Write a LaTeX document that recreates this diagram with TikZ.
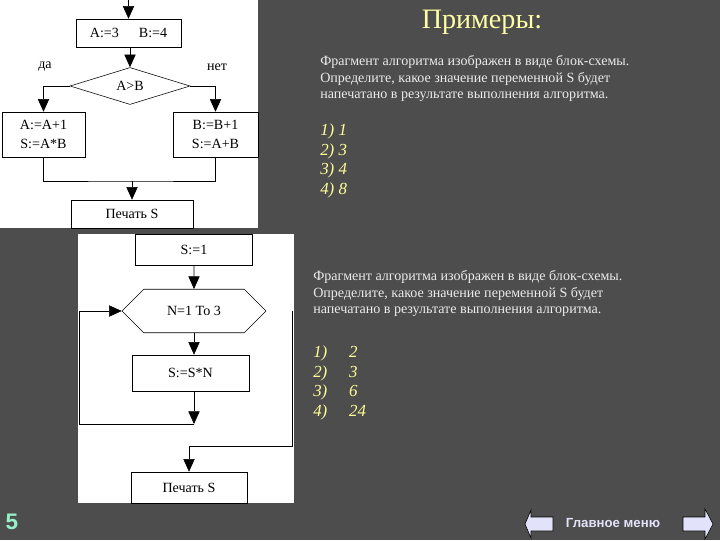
\documentclass[tikz,border=0pt]{standalone}
\usepackage{fontspec}
\setmainfont{Liberation Serif}
\newfontfamily\navfont{Liberation Sans}
\usepackage{tikz}
\usetikzlibrary{arrows.meta, shapes.geometric, shapes.misc}
\definecolor{slidebg}{RGB}{77,77,77}
\definecolor{titleyel}{RGB}{255,255,165}
\definecolor{ansyel}{RGB}{255,255,150}
\definecolor{qtext}{RGB}{235,235,235}
\definecolor{pagegreen}{RGB}{150,240,200}
\definecolor{navlav}{RGB}{226,226,250}
\newcommand{\ansline}[2]{\makebox[25.5pt][l]{#1}#2}

\begin{document}
\begin{tikzpicture}[
  x=0.025cm, y=-0.025cm,
  blk/.style={rectangle, draw, thin, inner sep=0pt, align=center,
              font=\fontsize{10}{13.5}\selectfont},
  cond/.style={diamond, draw, thin, inner sep=0pt, aspect=3.2,
               font=\fontsize{10}{12}\selectfont},
  loophex/.style={chamfered rectangle, draw, thin, inner sep=0pt,
                  chamfered rectangle xsep=0.7cm, chamfered rectangle ysep=0.425cm,
                  font=\fontsize{10}{12}\selectfont},
  arr/.style={-{Triangle[width=8pt,length=9pt]}, thin},
  lbl/.style={font=\fontsize{10}{12}\selectfont},
  qtxt/.style={anchor=north west, inner sep=0pt, align=left, text=qtext,
               font=\fontsize{10}{11.7}\selectfont},
  ans/.style={anchor=north west, inner sep=0pt, align=left, text=ansyel,
              font=\fontsize{12}{13.8}\selectfont\itshape},
]
\useasboundingbox (0,0) rectangle (720,540);
\fill[slidebg] (0,0) rectangle (720,540);
\fill[white] (0,0) rectangle (258,228);
\fill[white] (78,234) rectangle (294,503);

% first scheme: branching
\coordinate (in1) at (128.5,0);
\node[blk, minimum width=2.625cm, minimum height=0.7cm] (init) at (128.5,33) {A:=3\hspace{5mm}B:=4};
\node[cond, minimum width=3cm, minimum height=0.925cm] (test) at (130,86) {A>B};
\node[blk, minimum width=2.075cm, minimum height=1.125cm] (yes) at (43.5,134.5) {A:=A+1\\S:=A*B};
\node[blk, minimum width=2.125cm, minimum height=1.125cm] (no) at (215.5,134.5) {B:=B+1\\S:=A+B};
\node[blk, minimum width=3.05cm, minimum height=0.7cm] (out1) at (132,214) {Печать S};
\node[lbl] (yeslbl) at (45,67) {да};
\node[lbl] (nolbl) at (217,67) {нет};
\coordinate (merge) at (132,181);

\draw[arr] (in1) -- (init);
\draw[arr] (init.south -| test.north) -- (test);
\draw[arr] (test.west) -| (yes.north);
\draw[arr] (test.east) -| (no.north);
\draw (yes.south) |- (merge) -| (no.south);
\draw[arr] (merge) -- (out1);

% second scheme: loop
\node[blk, minimum width=2.925cm, minimum height=0.775cm] (init2) at (194,249.5) {S:=1};
\node[loophex, minimum width=3.6cm, minimum height=0.85cm] (loop) at (194,311) {N=1 To 3};
\node[blk, minimum width=2.925cm, minimum height=0.9cm] (body) at (190.5,373) {S:=S*N};
\node[blk, minimum width=2.9cm, minimum height=0.775cm] (out2) at (189,487.5) {Печать S};
\coordinate (back) at (194,424);
\coordinate (backl) at (79,424);
\coordinate (exit) at (292,311);
\coordinate (turn) at (292,446);

\draw[arr] (init2) -- (loop);
\draw[arr] (loop.south) -- (loop.south |- body.north);
\draw[arr] (loop.south |- body.south) -- (back);
\draw[arr] (back) -- (backl) |- (loop.west);
\draw[arr] (exit) -- (turn) -| (out2.north);

% task texts
\node[font=\fontsize{20}{24}\selectfont, text=titleyel] (title) at (482,22) {Примеры:};
\node[qtxt] (q1) at (320,55.5) {Фрагмент алгоритма изображен в виде блок-схемы.\\
  Определите, какое значение переменной S будет\\
  напечатано в результате выполнения алгоритма.};
\node[ans] (a1) at (320,124) {1) 1\\2) 3\\3) 4\\4) 8};
\node[qtxt] (q2) at (313,270.5) {Фрагмент алгоритма изображен в виде блок-схемы.\\
  Определите, какое значение переменной S будет\\
  напечатано в результате выполнения алгоритма.};
\node[ans] (a2) at (313,346) {\ansline{1)}{2}\\\ansline{2)}{3}\\\ansline{3)}{6}\\\ansline{4)}{24}};

% footer
\node[font=\navfont\bfseries\fontsize{16}{18}\selectfont, text=pagegreen] (pgno) at (12,522) {5};
\node[font=\navfont\bfseries\fontsize{9.4}{11}\selectfont, text=navlav] (menu) at (613,523) {Главное меню};
\filldraw[fill=navlav, draw=black, thin] (525,524) -- (531,510) -- (531,517) -- (553,517)
  -- (553,531) -- (531,531) -- (531,538) -- cycle;
\filldraw[fill=navlav, draw=black, thin] (683,517) -- (705,517) -- (705,509) -- (713,524)
  -- (705,539) -- (705,531) -- (683,531) -- cycle;
\end{tikzpicture}
\end{document}
